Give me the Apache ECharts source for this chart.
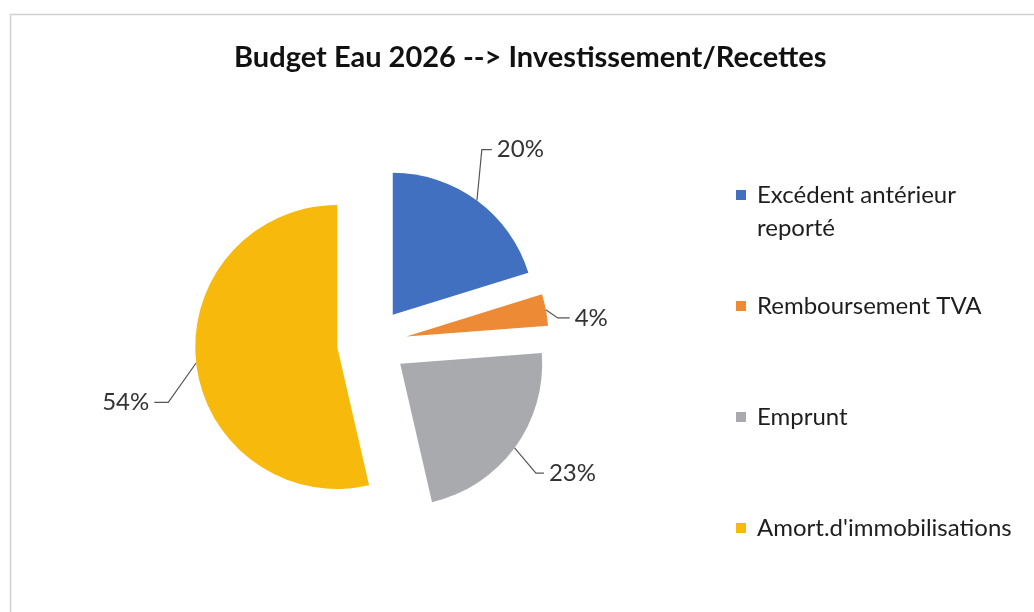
<!DOCTYPE html>
<html><head><meta charset="utf-8">
<script src="https://cdn.jsdelivr.net/npm/echarts@6/dist/echarts.min.js"></script>
<style>html,body{margin:0;padding:0;background:#fff}#c{width:1034px;height:612px}</style>
</head><body><div id="c"></div>
<script>
const titleText = 'Budget Eau 2026 --> Investissement/Recettes';
const categories = ['Excédent antérieur reporté', 'Remboursement TVA', 'Emprunt', "Amort.d'immobilisations"];
const values = [20.2, 3.6, 22.6, 53.6];
const colors = ['#4170c0', '#ec8a35', '#a8aaad', '#f7b90c'];
const lineLengths = [[42, 10], [10, 14], [34, 6], [22, 10]];
const labelShift = [[-20, -17], [0, 10], [-4, 5], [-10, 37]];
const elbowRun = [10, 12, 8, 14];

const FONT = 'Lato';
const chart = echarts.init(document.getElementById('c'));
chart.setOption({
  backgroundColor: '#ffffff',
  animation: false,
  graphic: [{
    type: 'rect', silent: true,
    shape: { x: 10.5, y: 14.5, width: 1200, height: 800 },
    style: { fill: 'none', stroke: '#cfcfcf', lineWidth: 1.5 }
  }],
  title: {
    text: titleText, left: 229, top: 38,
    textStyle: { fontFamily: FONT, fontWeight: 'bold', fontSize: 29, color: '#111111' }
  },
  legend: {
    orient: 'vertical', left: 736, top: 145.5, padding: 0,
    itemWidth: 10, itemHeight: 10, itemGap: 12,
    icon: 'rect',
    data: categories,
    formatter: function (name) {
      const lines = name === categories[0] ? ['Excédent antérieur', 'reporté'] : [name, ''];
      return '\n' + lines.join('\n');
    },
    textStyle: { fontFamily: FONT, fontSize: 24, color: '#1e1e1e', lineHeight: 33, padding: [0, 0, 0, 6] }
  },
  series: [{
    type: 'pie',
    center: [372, 343],
    radius: 142,
    startAngle: 90,
    clockwise: true,
    selectedMode: 'multiple',
    selectedOffset: 35,
    avoidLabelOverlap: false,
    label: {
      show: true, position: 'outside', fontFamily: FONT, fontSize: 24, color: '#333333',
      formatter: function (p) { return Math.round(p.percent) + '%'; }
    },
    labelLine: { show: true, lineStyle: { color: '#555555', width: 1.2 } },
    labelLayout: function (p) {
      const s = labelShift[p.dataIndex];
      const pts = p.labelLinePoints;
      if (!pts || pts.length < 3) return { dx: s[0], dy: s[1] };
      const dir = Math.sign(pts[2][0] - pts[1][0]) || 1;
      const end = [pts[2][0] + s[0], pts[2][1] + s[1]];
      const elbow = [end[0] - dir * elbowRun[p.dataIndex], end[1]];
      return { dx: s[0], dy: s[1], labelLinePoints: [pts[0], elbow, end] };
    },
    emphasis: { disabled: true },
    data: categories.map(function (c, i) {
      return {
        name: c, value: values[i], selected: true,
        itemStyle: { color: colors[i] },
        labelLine: { length: lineLengths[i][0], length2: lineLengths[i][1] }
      };
    })
  }]
});
</script></body></html>
